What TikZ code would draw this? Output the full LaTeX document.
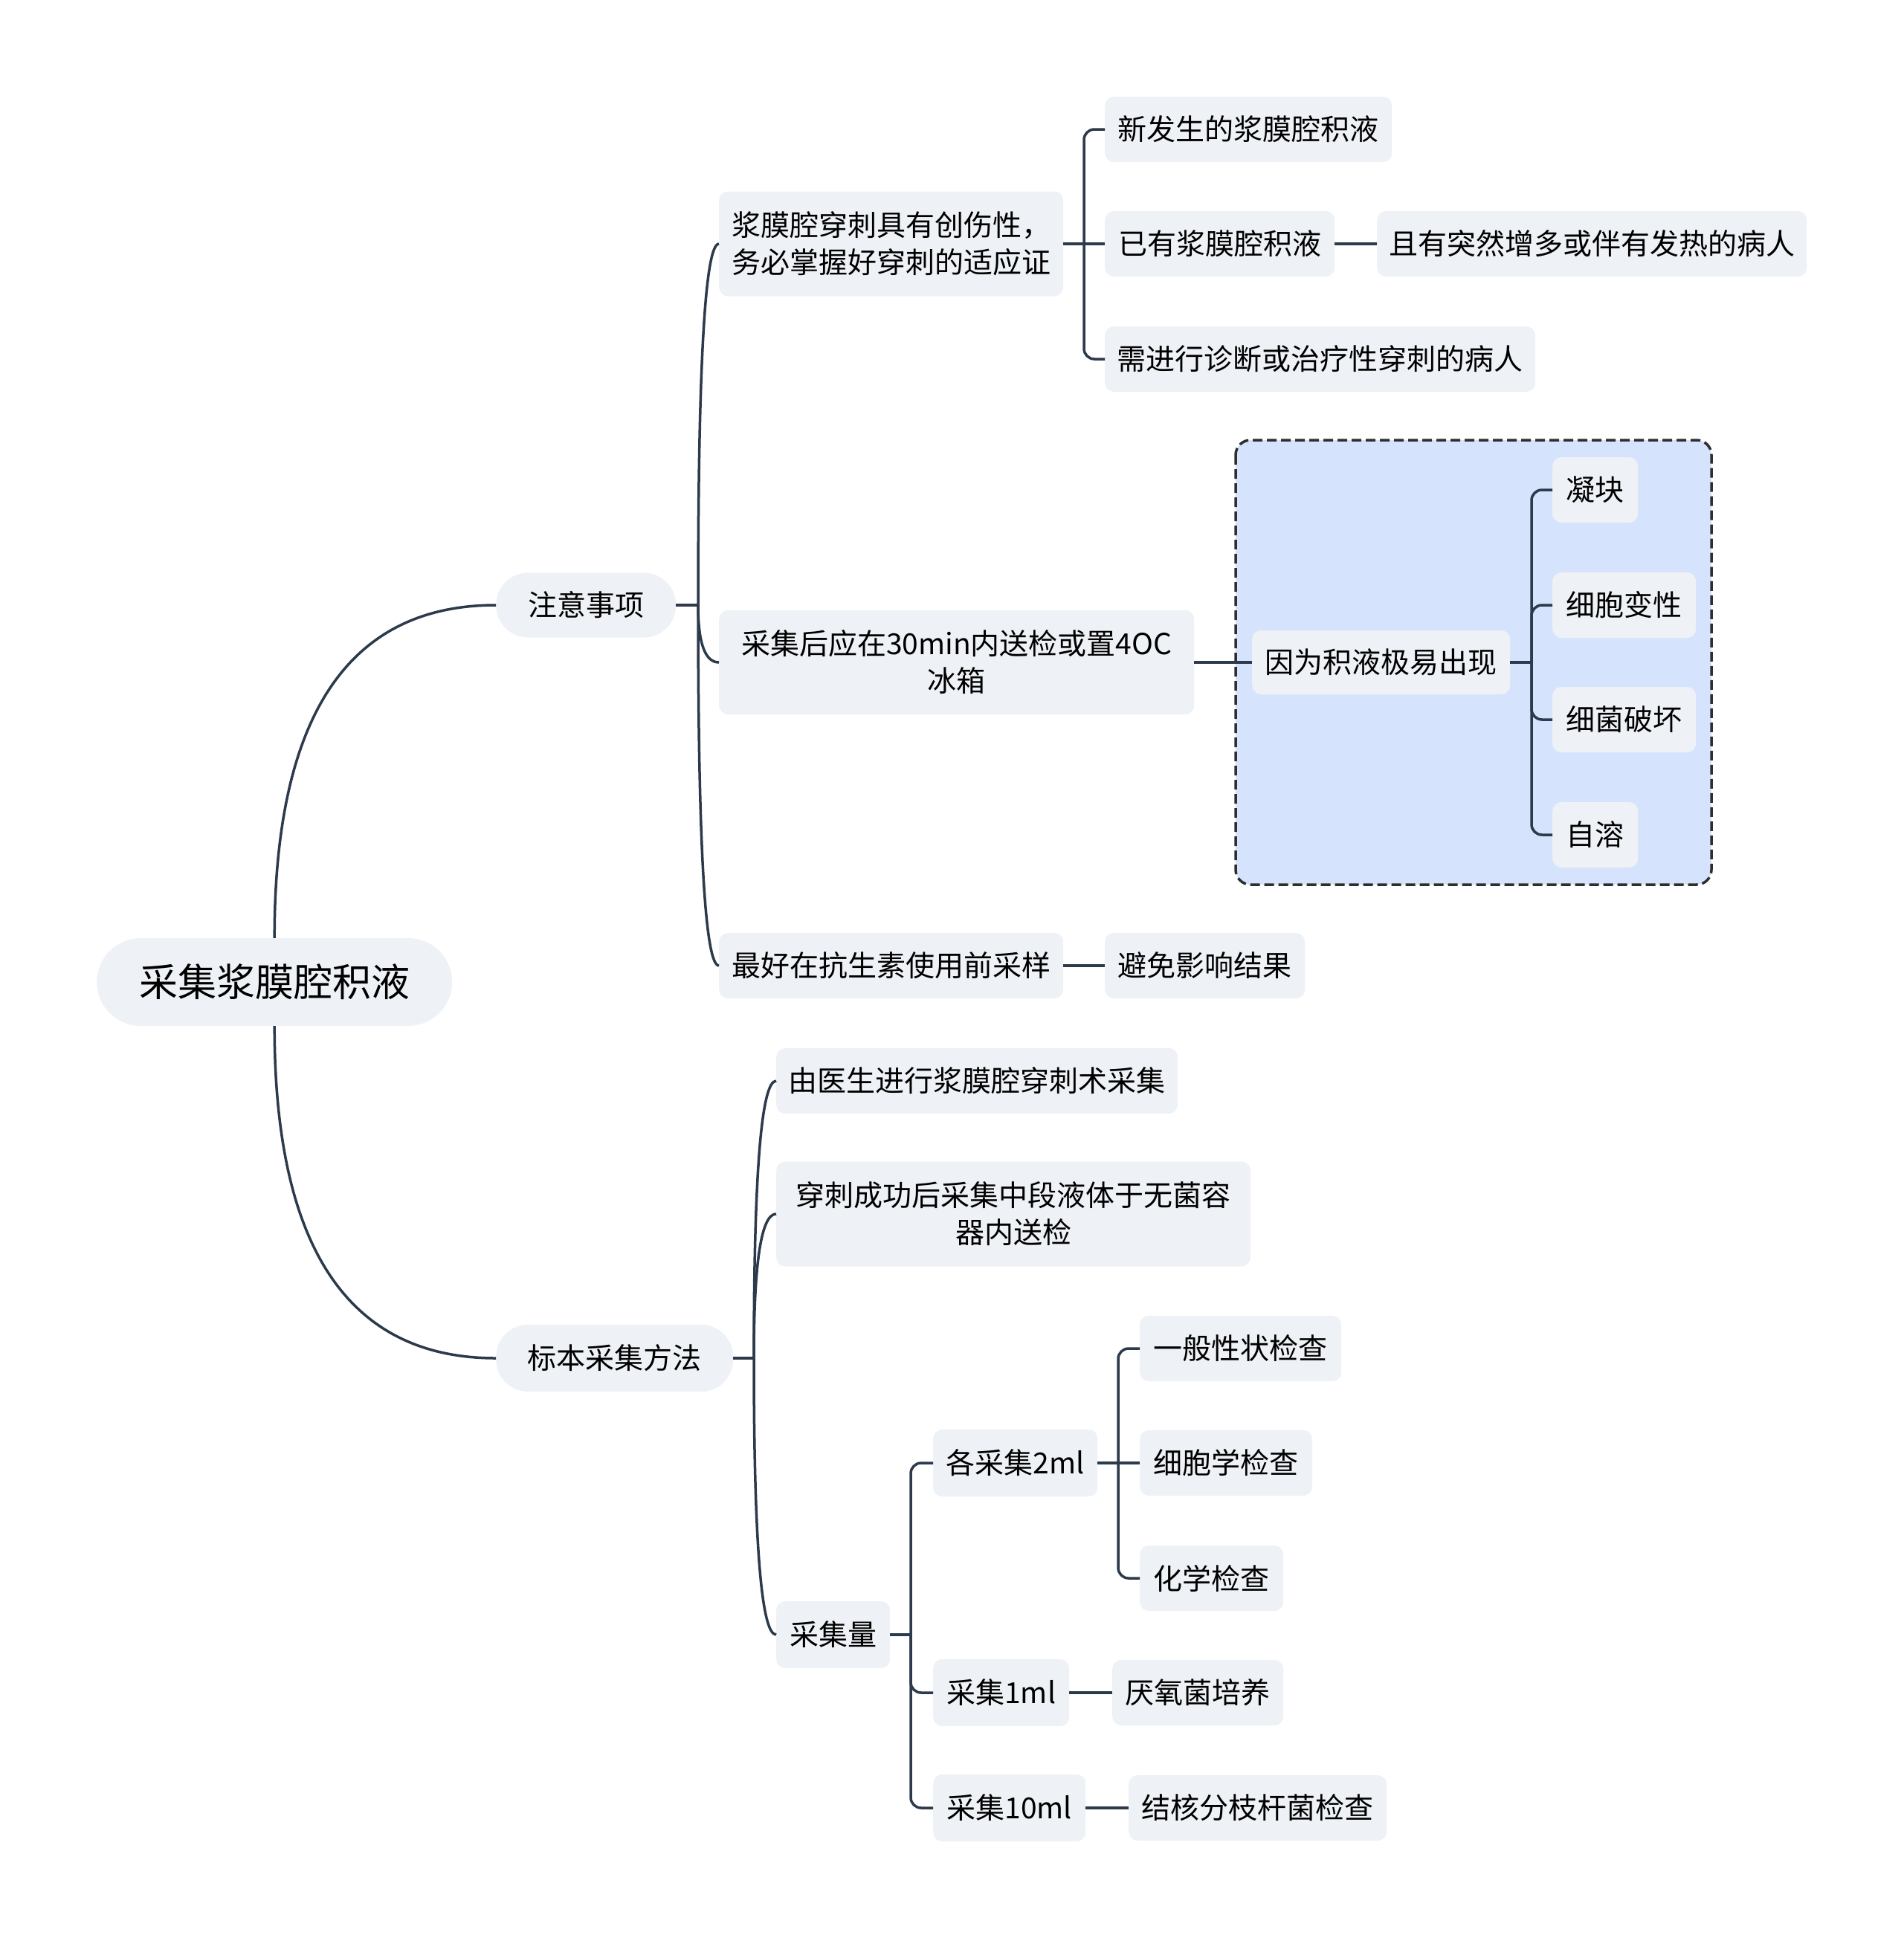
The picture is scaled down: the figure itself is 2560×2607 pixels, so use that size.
\documentclass[tikz,border=0pt]{standalone}
\usepackage{fontspec}
\setmainfont{Noto Sans CJK SC}
\usetikzlibrary{calc}
\definecolor{lc}{HTML}{2C3A4B}
\definecolor{nf}{HTML}{EEF1F5}
\definecolor{bf}{HTML}{D5E4FC}
\definecolor{bd}{HTML}{2E2E2E}
\newcommand\nodefnt{\fontsize{39pt}{50pt}\selectfont}
\newcommand\rootfnt{\fontsize{52pt}{60pt}\selectfont}
% quadratic curve from #1 (leaving vertically) to #2 (arriving horizontally)
\newcommand\qcurve[2]{(#1) .. controls ($(#1)!0.6667!(#1 |- #2)$) and ($(#2)!0.6667!(#1 |- #2)$) .. (#2)}
\begin{document}
\begin{tikzpicture}[x=1pt,y=-1pt,
  box/.style={fill=nf, rounded corners=12pt, inner xsep=10pt, inner ysep=0pt, anchor=west, font=\nodefnt, text=black, minimum height=88pt},
  pill/.style={box, rounded corners=43pt},
  conn/.style={draw=lc, line width=3.5pt},
  elbow/.style={conn, rounded corners=14pt}]
\useasboundingbox (0,0) rectangle (2560,2607);
% dashed group box
\draw[fill=bf, draw=bd, line width=3.5pt, dash pattern=on 13pt off 6pt, rounded corners=20pt] (1662,592) rectangle (2302,1190);
% nodes
\node[box, font=\rootfnt, rounded corners=59pt, minimum width=478pt, minimum height=118pt] (root) at (130,1321) {采集浆膜腔积液};
\node[pill, minimum width=242pt, minimum height=87pt] (zy) at (667,814) {注意事项};
\node[pill, minimum width=319pt, minimum height=90pt] (bb) at (667,1827) {标本采集方法};
\node[box, minimum width=463pt, minimum height=141pt, align=left] (a1) at (967,328) {浆膜腔穿刺具有创伤性，\\务必掌握好穿刺的适应证};
\node[box, minimum width=639pt, minimum height=140pt, align=center] (a2) at (967,891) {采集后应在30min内送检或置4OC\\冰箱};
\node[box, minimum width=463pt] (a3) at (967,1299) {最好在抗生素使用前采样};
\node[box, minimum width=386pt] (b1) at (1486,174) {新发生的浆膜腔积液};
\node[box, minimum width=309pt] (b2) at (1486,328) {已有浆膜腔积液};
\node[box, minimum width=578pt] (b2c) at (1852,328) {且有突然增多或伴有发热的病人};
\node[box, minimum width=579pt] (b3) at (1486,483) {需进行诊断或治疗性穿刺的病人};
\node[box, minimum width=347pt, minimum height=86pt] (c0) at (1684,891) {因为积液极易出现};
\node[box, minimum width=115pt] (c1) at (2088,659) {凝块};
\node[box, minimum width=193pt] (c2) at (2088,814) {细胞变性};
\node[box, minimum width=193pt] (c3) at (2088,968) {细菌破坏};
\node[box, minimum width=115pt] (c4) at (2088,1123) {自溶};
\node[box, minimum width=269pt] (a3c) at (1486,1299) {避免影响结果};
\node[box, minimum width=540pt] (d1) at (1044,1454) {由医生进行浆膜腔穿刺术采集};
\node[box, minimum width=638pt, minimum height=141pt, align=center] (d2) at (1044,1633) {穿刺成功后采集中段液体于无菌容\\器内送检};
\node[box, minimum width=153pt, minimum height=90pt] (d3) at (1044,2199) {采集量};
\node[box, minimum width=221pt, minimum height=90pt] (e1) at (1255,1968) {各采集2ml};
\node[box, minimum width=183pt, minimum height=90pt] (e2) at (1255,2277) {采集1ml};
\node[box, minimum width=205pt, minimum height=90pt] (e3) at (1255,2432) {采集10ml};
\node[box, minimum width=271pt] (f1) at (1533,1814) {一般性状检查};
\node[box, minimum width=232pt] (f2) at (1533,1968) {细胞学检查};
\node[box, minimum width=193pt] (f3) at (1533,2123) {化学检查};
\node[box, minimum width=230pt] (e2c) at (1496,2277) {厌氧菌培养};
\node[box, minimum width=347pt] (e3c) at (1518,2432) {结核分枝杆菌检查};
% trunk points
\coordinate (tz) at (939,814);
\coordinate (tb) at (1014,1827);
\coordinate (ta1) at (1458,328);
\coordinate (tc0) at (2060,891);
\coordinate (td3) at (1225,2199);
\coordinate (te1) at (1504,1968);
% root curves
\draw[conn] \qcurve{root.north}{zy.west};
\draw[conn] \qcurve{root.south}{bb.west};
% 注意事项 branch
\draw[conn] (zy.east) -- (tz);
\draw[conn] \qcurve{tz}{a1.west};
\draw[conn] \qcurve{tz}{a2.west};
\draw[conn] \qcurve{tz}{a3.west};
% 标本采集方法 branch
\draw[conn] (bb.east) -- (tb);
\draw[conn] \qcurve{tb}{d1.west};
\draw[conn] \qcurve{tb}{d2.west};
\draw[conn] \qcurve{tb}{d3.west};
% a1 branch
\draw[conn] (a1.east) -- (b2.west);
\draw[elbow] (ta1) |- (b1.west);
\draw[elbow] (ta1) |- (b3.west);
\draw[conn] (b2.east) -- (b2c.west);
% a2 branch
\draw[conn] (a2.east) -- (c0.west);
\draw[conn] (c0.east) -- (tc0);
\draw[elbow] (tc0) |- (c1.west);
\draw[elbow] (tc0) |- (c2.west);
\draw[elbow] (tc0) |- (c3.west);
\draw[elbow] (tc0) |- (c4.west);
% a3
\draw[conn] (a3.east) -- (a3c.west);
% 采集量 branch
\draw[conn] (d3.east) -- (td3);
\draw[elbow] (td3) |- (e1.west);
\draw[elbow] (td3) |- (e2.west);
\draw[elbow] (td3) |- (e3.west);
% 各采集2ml branch
\draw[conn] (e1.east) -- (f2.west);
\draw[elbow] (te1) |- (f1.west);
\draw[elbow] (te1) |- (f3.west);
% single links
\draw[conn] (e2.east) -- (e2c.west);
\draw[conn] (e3.east) -- (e3c.west);
\end{tikzpicture}
\end{document}
